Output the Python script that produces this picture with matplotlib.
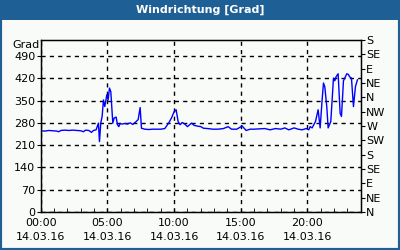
import matplotlib
matplotlib.use("Agg")
import matplotlib.pyplot as plt
from matplotlib.patches import Rectangle

# Stunden ab 00:00 am 14.03.16 und Windrichtung in Grad
stunden = [0.0, 0.3, 0.6, 0.9, 1.2, 1.35, 1.5, 1.8, 2.1, 2.4, 2.7, 3.0, 3.2, 3.35,
           3.6, 3.8, 3.95, 4.15, 4.32, 4.4, 4.5, 4.6, 4.7, 4.8, 4.95, 5.05, 5.15,
           5.25, 5.4, 5.5, 5.65, 5.75, 5.85, 5.95, 6.1, 6.3, 6.5, 6.7, 6.9, 7.1,
           7.3, 7.45, 7.55, 7.8, 8.1, 8.4, 8.7, 9.0, 9.3, 9.6, 9.8, 10.0, 10.15,
           10.3, 10.45, 10.6, 10.8, 11.0, 11.3, 11.5, 11.7, 12.0, 12.2, 12.5,
           12.9, 13.3, 13.7, 14.05, 14.3, 14.7, 15.1, 15.4, 15.7, 16.0, 16.4,
           16.8, 17.2, 17.6, 18.0, 18.3, 18.6, 19.0, 19.3, 19.6, 19.9, 20.1,
           20.2, 20.35, 20.6, 20.8, 20.95, 21.1, 21.2, 21.3, 21.45, 21.55, 21.75,
           21.95, 22.05, 22.15, 22.3, 22.45, 22.55, 22.7, 22.95, 23.07, 23.15,
           23.3, 23.45, 23.6, 23.75]
grad = [255, 254, 256, 255, 254, 252, 256, 257, 256, 257, 256, 255, 252, 257,
        256, 250, 256, 258, 279, 221, 280, 300, 352, 331, 368, 352, 389,
        378, 279, 295, 298, 274, 268, 278, 276, 278, 276, 280, 275, 282,
        290, 328, 263, 260, 259, 260, 260, 260, 262, 280, 295, 315, 321,
        284, 274, 281, 276, 268, 279, 272, 270, 268, 263, 262,
        260, 260, 262, 268, 260, 260, 270, 256, 260, 260, 261,
        262, 258, 262, 260, 264, 258, 264, 260, 258, 262, 258,
        268, 264, 284, 321, 264, 352, 405, 393, 330, 264, 284,
        420, 412, 425, 434, 310, 300, 412, 434, 432, 425,
        420, 331, 394, 415]

links_ticks = [0, 70, 140, 210, 280, 350, 420, 490]
rechts_ticks = [0, 45, 90, 135, 180, 225, 270, 315, 360, 405, 450, 495, 540]
rechts_labels = ["N", "NE", "E", "SE", "S", "SW", "W", "NW", "N", "NE", "E", "SE", "S"]
x_ticks = [0, 5, 10, 15, 20]
x_labels = ["00:00\n14.03.16", "05:00\n14.03.16", "10:00\n14.03.16",
            "15:00\n14.03.16", "20:00\n14.03.16"]

blau = "#1e6096"
fs = 8

fig = plt.figure(figsize=(4, 2.5), dpi=100)
fig.patch.set_facecolor("#f9fbf9")

# Rahmen und Titelleiste
fig.patches.append(Rectangle((0, 0), 1, 1, transform=fig.transFigure,
                             fill=False, edgecolor=blau, linewidth=3))
fig.patches.append(Rectangle((0, 0.92), 1, 0.08, transform=fig.transFigure,
                             facecolor=blau, edgecolor="none"))
fig.text(0.5, 0.96, "Windrichtung [Grad]", color="white", fontsize=fs,
         fontweight="bold", ha="center", va="center")

ax = fig.add_axes([0.102, 0.152, 0.8, 0.688])
ax.set_facecolor("#f9fbf9")
ax.plot(stunden, grad, color="#0000ff", linewidth=1)

ax.set_xlim(0, 24)
ax.set_ylim(0, 540)
ax.set_xticks(x_ticks)
ax.set_xticklabels(x_labels, fontsize=fs, linespacing=1.5)
ax.set_xticks(range(25), minor=True)
ax.set_yticks(links_ticks)
ax.set_yticklabels([str(v) for v in links_ticks], fontsize=fs)
ax.tick_params(axis="x", which="both", direction="in", length=3, pad=4)
ax.tick_params(axis="y", direction="out", length=3, pad=1)

ax.grid(True, which="major", color="black", linestyle=(0, (3, 3)), linewidth=1)
for s in ax.spines.values():
    s.set_linewidth(1)

ax2 = ax.twinx()
ax2.set_ylim(0, 540)
ax2.set_yticks(rechts_ticks)
ax2.set_yticklabels(rechts_labels, fontsize=fs)
ax2.tick_params(axis="y", direction="out", length=3, pad=1)

ax.text(-0.005, 0.97, "Grad", transform=ax.transAxes, fontsize=fs,
        ha="right", va="center")

fig.savefig("out.png", dpi=100, facecolor=fig.get_facecolor())
